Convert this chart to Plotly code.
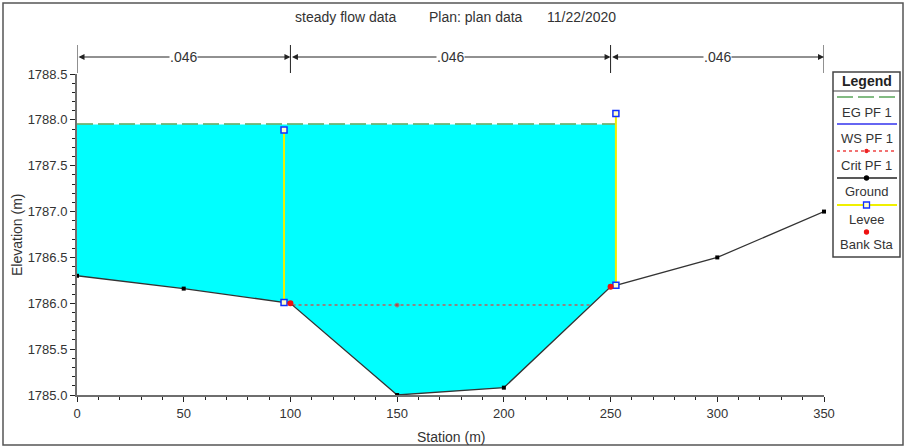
import numpy as np
import plotly.graph_objects as go

# ---------------- data ----------------
ground_sta = [0, 50, 100, 150, 200, 250, 300, 350]
ground_elev = [1786.30, 1786.16, 1786.00, 1785.00, 1785.08, 1786.18, 1786.50, 1787.00]
bank_sta = [100, 250]
levee_sta = [97, 252.5]
levee_top = [1787.89, 1788.07]
ws_elev = 1787.95
eg_elev = 1787.955
crit_elev = 1785.98
n_values = [0.046, 0.046, 0.046]
x_ticks = [0, 50, 100, 150, 200, 250, 300, 350]
y_ticks = [1785.0, 1785.5, 1786.0, 1786.5, 1787.0, 1787.5, 1788.0, 1788.5]
title_parts = ["steady flow data", "Plan: plan data", "11/22/2020"]
legend_names = ["EG PF 1", "WS PF 1", "Crit PF 1", "Ground", "Levee", "Bank Sta"]

# ---------------- layout helpers ----------------
W, H = 905, 448
L, R, T, B = 77, 824, 74, 395
def px(x):
    return (x - L) / (R - L)
def py(y):
    return (B - y) / (B - T)

FONT = "Liberation Sans, Arial"
TXT = "#333333"
FS = 14

gs = np.array(ground_sta, float)
ge = np.array(ground_elev, float)

# water fill polygon (from data)
right_lim = levee_sta[1]
g_right = float(np.interp(right_lim, gs, ge))
inner = gs < right_lim
fill_x = [0, right_lim, right_lim] + list(gs[inner][::-1])
fill_y = [ws_elev, ws_elev, g_right] + list(ge[inner][::-1])

# crit line intersections with ground
def crossings(level):
    pts = []
    for i in range(len(gs) - 1):
        a, b = ge[i] - level, ge[i + 1] - level
        if a * b < 0:
            pts.append(gs[i] + (gs[i + 1] - gs[i]) * a / (a - b))
    return pts
cx = crossings(crit_elev)
crit_x = [cx[0], float(gs[np.argmin(ge)]), cx[-1]]

fig = go.Figure()

fig.add_trace(go.Scatter(x=fill_x, y=fill_y, mode="lines", fill="toself",
                         fillcolor="#00FFFF", line=dict(width=0), hoverinfo="skip",
                         name="WS PF 1", showlegend=False))
fig.add_trace(go.Scatter(x=[0, right_lim], y=[eg_elev, eg_elev], mode="lines",
                         line=dict(color="#5aa55a", width=1.6, dash="16px,5px"),
                         name="EG PF 1", showlegend=False))
fig.add_trace(go.Scatter(x=crit_x, y=[crit_elev] * 3, mode="lines+markers",
                         line=dict(color="#b86060", width=1.5, dash="dot"),
                         marker=dict(size=[0, 4, 0], color="#e02020"),
                         name="Crit PF 1", showlegend=False))
fig.add_trace(go.Scatter(x=ground_sta, y=ground_elev, mode="lines+markers",
                         line=dict(color="#333333", width=1.3),
                         marker=dict(size=4, color="black", symbol="square"),
                         cliponaxis=False, name="Ground", showlegend=False))
for s, top in zip(levee_sta, levee_top):
    base = float(np.interp(s, gs, ge))
    fig.add_trace(go.Scatter(x=[s, s], y=[base, top], mode="lines+markers",
                             line=dict(color="#f0f000", width=2),
                             marker=dict(size=6, symbol="square", color="#ffffcc",
                                         line=dict(color="#1030ff", width=1.5)),
                             cliponaxis=False, name="Levee", showlegend=False))
fig.add_trace(go.Scatter(x=bank_sta, y=list(np.interp(bank_sta, gs, ge)), mode="markers",
                         marker=dict(size=6, color="#ee1111"), cliponaxis=False,
                         name="Bank Sta", showlegend=False))

shapes = []
annotations = []

def text(t, x, y, size=FS, color=TXT, **kw):
    d = dict(text=t, xref="paper", yref="paper", x=x, y=y, showarrow=False,
             xanchor="center", yanchor="middle",
             font=dict(size=size, color=color, family=FONT))
    d.update(kw)
    annotations.append(d)

# outer frame
shapes.append(dict(type="rect", xref="paper", yref="paper",
                   x0=px(3), x1=px(903), y0=py(445), y1=py(3),
                   line=dict(color="#555555", width=1.5)))

# title
for txt, cxp in zip(title_parts, [345, 476, 581]):
    text(txt, px(cxp), py(17))

# n-value bar
bounds = [0] + bank_sta + [350]
for b in bounds:
    shapes.append(dict(type="line", xref="x", yref="paper", x0=b, x1=b,
                       y0=py(73), y1=py(45), line=dict(color="#222222", width=1)))
for i, v in enumerate(n_values):
    a, b = bounds[i], bounds[i + 1]
    annotations.append(dict(text="", xref="x", yref="paper", x=b, y=py(57),
                            axref="x", ax=a, ayref="pixel", ay=0, showarrow=True,
                            arrowside="end+start", arrowhead=2, arrowsize=1.2,
                            arrowwidth=1, arrowcolor="#222222", standoff=0, startstandoff=0))
    annotations.append(dict(text=("%.3f" % v).lstrip("0"), xref="x", yref="paper",
                            x=(a + b) / 2, y=py(57), showarrow=False, bgcolor="white",
                            xanchor="center", yanchor="middle", borderpad=0,
                            font=dict(size=FS, color=TXT, family=FONT)))

# axis titles
text("Elevation (m)", px(17), py(235), textangle=-90)
text("Station (m)", px(451), py(437))

# custom legend
lx0, lx1 = 833, 900
shapes.append(dict(type="rect", xref="paper", yref="paper", x0=px(lx0), x1=px(lx1),
                   y0=py(257), y1=py(72), line=dict(color="#444444", width=1.5),
                   fillcolor="white", layer="above"))
shapes.append(dict(type="line", xref="paper", yref="paper", x0=px(lx0), x1=px(lx1),
                   y0=py(91), y1=py(91), line=dict(color="#444444", width=1.2), layer="above"))
xm = (lx0 + lx1) / 2
text("<b>Legend</b>", px(xm), py(81), color="#222222")
line_y = [97, 124, 151, 178, 205, 232]
text_y = [112, 138, 165, 191, 219, 245]
styles = [dict(color="#5aa55a", width=1.6, dash="16px,5px"),
          dict(color="#3333ee", width=1.6),
          dict(color="#ee4444", width=1.5, dash="dot"),
          dict(color="#222222", width=1.3),
          dict(color="#f0f000", width=2.2),
          None]
for name, ly, ty, st in zip(legend_names, line_y, text_y, styles):
    if st is not None:
        shapes.append(dict(type="line", xref="paper", yref="paper", x0=px(837), x1=px(897),
                           y0=py(ly), y1=py(ly), line=st, layer="above"))
    text(name, px(xm), py(ty), size=13)
def mark(kind, ly, size, fill, edge):
    shapes.append(dict(type=kind, xref="paper", yref="paper", xsizemode="pixel", ysizemode="pixel",
                       xanchor=px(xm), yanchor=py(ly), x0=-size, x1=size, y0=-size, y1=size,
                       fillcolor=fill, line=dict(color=edge, width=1.3), layer="above"))
mark("circle", line_y[2], 1.5, "#ee2222", "#ee2222")
mark("circle", line_y[3], 2, "black", "black")
mark("rect", line_y[4], 3, "#ffffcc", "#1030ff")
mark("circle", line_y[5], 2, "#ee1111", "#ee1111")

axis_common = dict(showline=True, linecolor="#6e6e6e", linewidth=2, ticks="outside",
                   ticklen=5, tickwidth=1, tickcolor="#222222", showgrid=False, zeroline=False,
                   tickfont=dict(size=13, color=TXT, family=FONT), mirror=False)
fig.update_layout(
    width=W, height=H,
    margin=dict(l=L, r=W - R, t=T, b=H - B, pad=0),
    paper_bgcolor="white", plot_bgcolor="white",
    showlegend=False,
    xaxis=dict(range=[0, 350], tickvals=x_ticks, ticktext=[str(v) for v in x_ticks],
               minor=dict(dtick=10, ticks="outside", ticklen=3, tickcolor="#222222"),
               **axis_common),
    yaxis=dict(range=[1785.0, 1788.5], tickvals=y_ticks,
               ticktext=["%.1f" % v for v in y_ticks],
               minor=dict(dtick=0.1, ticks="outside", ticklen=3, tickcolor="#222222"),
               **axis_common),
    shapes=shapes, annotations=annotations,
)

fig.write_html("out.html", config={"displayModeBar": False},
               post_script="document.body.style.margin='0px';")
